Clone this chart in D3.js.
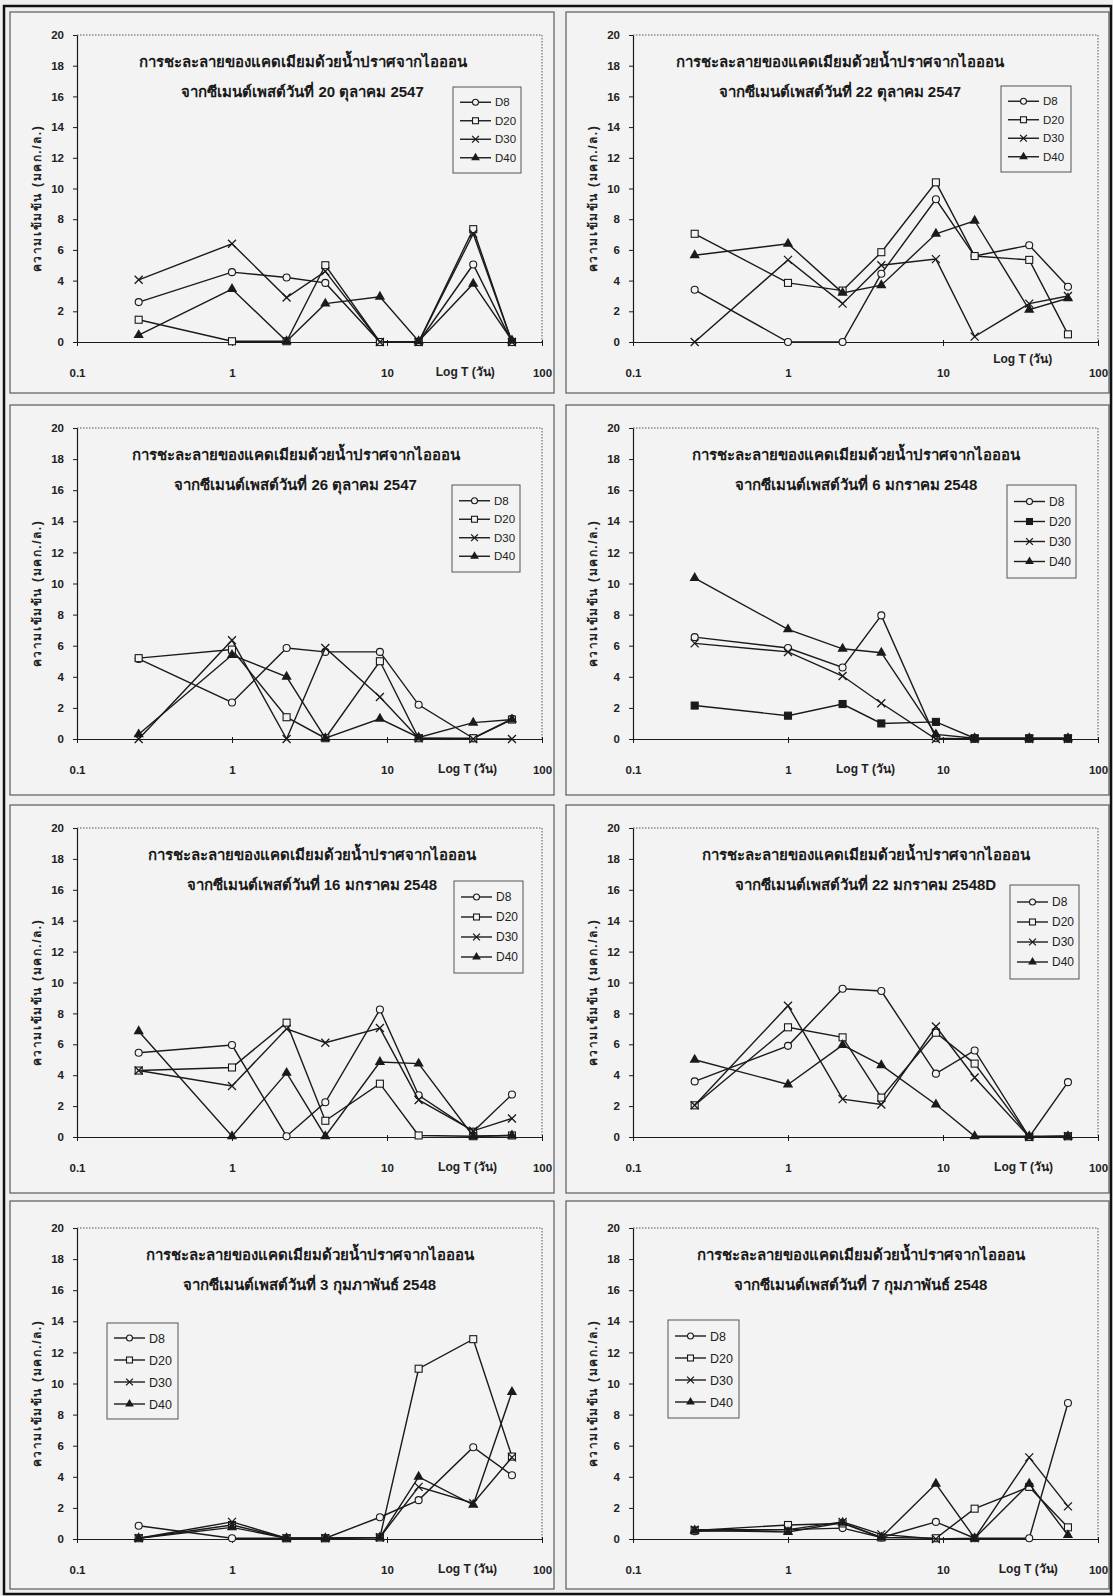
<!DOCTYPE html>
<html>
<head>
<meta charset="utf-8">
<script src="https://cdn.jsdelivr.net/npm/d3@7/dist/d3.min.js"></script>
<style>
  body { margin: 0; background: #efefef; }
  svg { display: block; font-family: "Liberation Sans", Arial, "Noto Sans", sans-serif; }
</style>
</head>
<body>
<div id="chart"></div>
<script>
// Time points (days) and axis ticks
var days = [0.25, 1, 2.25, 4, 9, 16, 36, 64];
var xTicks = [0.1, 1, 10, 100];
var yTicks = [0, 2, 4, 6, 8, 10, 12, 14, 16, 18, 20];
var seriesNames = ['D8', 'D20', 'D30', 'D40'];

// Titles
var titleLine1 = 'การชะละลายของแคดเมียมด้วยน้ำปราศจากไอออน';
var titleDates = [
  'จากซีเมนต์เพสต์วันที่ 20 ตุลาคม 2547',
  'จากซีเมนต์เพสต์วันที่ 22 ตุลาคม 2547',
  'จากซีเมนต์เพสต์วันที่ 26 ตุลาคม 2547',
  'จากซีเมนต์เพสต์วันที่ 6 มกราคม 2548',
  'จากซีเมนต์เพสต์วันที่ 16 มกราคม 2548',
  'จากซีเมนต์เพสต์วันที่ 22 มกราคม 2548D',
  'จากซีเมนต์เพสต์วันที่ 3 กุมภาพันธ์ 2548',
  'จากซีเมนต์เพสต์วันที่ 7 กุมภาพันธ์ 2548'
];
var yLabel = 'ความเข้มข้น (มคก./ล.)';
var xLabel = 'Log T (วัน)';

// Concentrations, one row per series: D8, D20, D30, D40
var oct20 = [
  [2.6, 4.55, 4.2, 3.85, 0, 0, 5.05, 0],
  [1.45, 0.05, 0.05, 5.0, 0, 0, 7.35, 0],
  [4.05, 6.4, 2.9, 4.6, 0, 0, 7.05, 0],
  [0.45, 3.45, 0.05, 2.5, 2.95, 0.05, 3.8, 0.1]
];
var oct22 = [
  [3.4, 0, 0, 4.45, 9.3, 5.6, 6.3, 3.6],
  [7.05, 3.85, 3.35, 5.85, 10.4, 5.6, 5.35, 0.5],
  [0, 5.35, 2.5, 5.0, 5.4, 0.35, 2.5, 3.0],
  [5.65, 6.4, 3.2, 3.7, 7.05, 7.9, 2.1, 2.85]
];
var oct26 = [
  [5.15, 2.35, 5.85, 5.6, 5.6, 2.2, 0.05, 1.3],
  [5.2, 5.75, 1.4, 0.05, 5.0, 0.05, 0.05, 1.25],
  [0, 6.35, 0, 5.85, 2.7, 0.05, 0, 0],
  [0.3, 5.4, 4.0, 0.05, 1.3, 0.1, 1.05, 1.25]
];
var jan6 = [
  [6.55, 5.85, 4.6, 7.95, 0.05, 0, 0, 0],
  [2.15, 1.5, 2.25, 1.0, 1.1, 0.05, 0.05, 0.05],
  [6.15, 5.6, 4.05, 2.3, 0, 0, 0, 0],
  [10.35, 7.05, 5.8, 5.55, 0.3, 0.05, 0.05, 0.05]
];
var jan16 = [
  [5.45, 5.95, 0.05, 2.25, 8.25, 2.7, 0.35, 2.75],
  [4.3, 4.5, 7.4, 1.05, 3.45, 0.1, 0.05, 0.1],
  [4.3, 3.3, 7.0, 6.1, 7.05, 2.4, 0.4, 1.2],
  [6.85, 0.05, 4.15, 0.05, 4.85, 4.75, 0.05, 0.1]
];
var jan22 = [
  [3.6, 5.9, 9.6, 9.45, 4.1, 5.6, 0, 3.55],
  [2.05, 7.1, 6.45, 2.55, 6.75, 4.75, 0, 0.05],
  [2.05, 8.5, 2.45, 2.1, 7.15, 3.85, 0, 0.05],
  [5.0, 3.4, 5.95, 4.65, 2.1, 0.05, 0.05, 0.05]
];
var feb3 = [
  [0.85, 0.05, 0.05, 0.05, 1.4, 2.5, 5.9, 4.1],
  [0.05, 0.9, 0.05, 0.05, 0.1, 10.95, 12.85, 5.3],
  [0.05, 1.1, 0.05, 0.05, 0.1, 3.35, 2.3, 5.25],
  [0.05, 0.75, 0.05, 0.05, 0.1, 4.0, 2.2, 9.45]
];
var feb7 = [
  [0.5, 0.6, 0.7, 0.1, 1.1, 0.05, 0.05, 8.75],
  [0.55, 0.9, 1.0, 0.1, 0.05, 1.95, 3.35, 0.75],
  [0.6, 0.6, 1.1, 0.3, 0, 0.05, 5.25, 2.1],
  [0.55, 0.45, 1.05, 0.1, 3.55, 0.05, 3.55, 0.25]
];
var panelData = [oct20, oct22, oct26, jan6, jan16, jan22, feb3, feb7];

// Layout of the page: rows, columns and per panel extras
var W = 1113, H = 1596;
var cols = [{ x: 10, w: 544 }, { x: 566, w: 543 }];
var rows = [
  { top: 12, plotTop: 35, plotBottom: 342, bottom: 393 },
  { top: 405, plotTop: 428, plotBottom: 739, bottom: 795 },
  { top: 805, plotTop: 828, plotBottom: 1137, bottom: 1193 },
  { top: 1201, plotTop: 1228, plotBottom: 1539, bottom: 1589 }
];
var plotLeft = 67, plotWidth = 465;
// legend box [x, y, w, h, spacing, fontSize] relative to panel
var legendBoxes = [
  [443, 75, 68, 86, 18.5, 11.5], [435, 74, 70, 86, 18.5, 11.5],
  [442, 80, 68, 87, 18.5, 11.5], [441, 80, 69, 93, 20, 12],
  [444, 76, 69, 92, 20, 12], [444, 80, 69, 94, 20, 12],
  [97, 122, 71, 96, 22, 12.5], [102, 119, 71, 98, 22, 12.5]
];
// x label position as fraction of plot width, and y shift
var xLabelPos = [[0.835, 0], [0.838, -13], [0.84, 0], [0.5, 0], [0.84, 0], [0.84, 0], [0.84, 0], [0.85, 0]];
var titleX = [0.485, 0.445, 0.47, 0.48, 0.505, 0.5, 0.5, 0.49];

var bg = '#f3f3f3', ink = '#1a1a1a';

var svg = d3.select('#chart').append('svg')
  .attr('width', W)
  .attr('height', H);

svg.append('rect')
  .attr('width', W).attr('height', H)
  .attr('fill', '#efefef');

panelData.forEach(function(data, p) {
  var col = cols[p % 2], row = rows[Math.floor(p / 2)];
  var g = svg.append('g').attr('transform', 'translate(' + col.x + ',' + row.top + ')');
  var pt = row.plotTop - row.top, pb = row.plotBottom - row.top;

  g.append('rect')
    .attr('x', 0).attr('y', 0)
    .attr('width', col.w).attr('height', row.bottom - row.top)
    .attr('fill', bg)
    .attr('stroke', '#666')
    .attr('stroke-width', 1.3);

  var x = d3.scaleLog().domain([0.1, 100]).range([plotLeft, plotLeft + plotWidth]);
  var y = d3.scaleLinear().domain([0, 20]).range([pb, pt]);

  // plot area dotted border (top and right)
  g.append('path')
    .attr('d', 'M' + x(0.1) + ',' + y(20) + 'H' + x(100) + 'V' + y(0))
    .attr('fill', 'none')
    .attr('stroke', '#555')
    .attr('stroke-width', 1)
    .attr('stroke-dasharray', '1.5,1.5');

  // y axis
  var yAxis = g.append('g')
    .attr('transform', 'translate(' + x(0.1) + ',0)')
    .call(d3.axisLeft(y).tickValues(yTicks).tickSize(4).tickSizeOuter(0).tickPadding(9));
  yAxis.select('.domain').attr('stroke', ink).attr('stroke-width', 1.2);
  yAxis.selectAll('line').attr('stroke', ink);
  yAxis.selectAll('text')
    .attr('font-size', 11.5)
    .attr('font-weight', 'bold')
    .attr('fill', '#222');

  // x axis at y = 0, labels set low
  var xAxis = g.append('g')
    .attr('transform', 'translate(0,' + y(0) + ')')
    .call(d3.axisBottom(x).tickValues(xTicks).tickFormat(d3.format('')).tickSize(4).tickSizeOuter(0));
  xAxis.select('.domain').attr('stroke', ink).attr('stroke-width', 1.2);
  xAxis.selectAll('line').attr('stroke', ink).attr('y1', -2);
  xAxis.selectAll('text')
    .attr('y', 27)
    .attr('font-size', 11.5)
    .attr('font-weight', 'bold')
    .attr('fill', '#222');

  g.append('text')
    .attr('x', plotLeft + xLabelPos[p][0] * plotWidth)
    .attr('y', y(0) + 34 + xLabelPos[p][1])
    .attr('text-anchor', 'middle')
    .attr('font-size', 12)
    .attr('font-weight', 'bold')
    .attr('fill', '#222')
    .text(xLabel);

  // y title
  g.append('text')
    .attr('transform', 'translate(31,' + ((pt + pb) / 2 + 10) + ') rotate(-90)')
    .attr('text-anchor', 'middle')
    .attr('font-size', 12)
    .attr('letter-spacing', 1.6)
    .attr('font-weight', 'bold')
    .attr('fill', '#222')
    .text(yLabel);

  // titles
  var tx = plotLeft + titleX[p] * plotWidth;
  g.append('text')
    .attr('x', tx).attr('y', pt + 32)
    .attr('text-anchor', 'middle')
    .attr('font-size', 15)
    .attr('font-weight', 'bold')
    .attr('fill', ink)
    .text(titleLine1);
  g.append('text')
    .attr('x', tx).attr('y', pt + 62)
    .attr('text-anchor', 'middle')
    .attr('font-size', 15)
    .attr('font-weight', 'bold')
    .attr('fill', ink)
    .text(titleDates[p]);

  // series
  var line = d3.line().x(function(d, i) { return x(days[i]); }).y(function(d) { return y(d); });
  data.forEach(function(vals, s) {
    g.append('path')
      .datum(vals)
      .attr('d', line)
      .attr('fill', 'none')
      .attr('stroke', ink)
      .attr('stroke-width', 1.4);
    var pts = g.append('g').selectAll('g')
      .data(vals)
      .join('g')
        .attr('transform', function(d, i) { return 'translate(' + x(days[i]) + ',' + y(d) + ')'; });
    drawMarker(pts, s, p === 3 && s === 1, 1);
  });

  // legend
  var lb = legendBoxes[p];
  var lg = g.append('g').attr('transform', 'translate(' + lb[0] + ',' + lb[1] + ')');
  lg.append('rect')
    .attr('width', lb[2]).attr('height', lb[3])
    .attr('fill', bg)
    .attr('stroke', '#555')
    .attr('stroke-width', 1);
  var top0 = (lb[3] - 3 * lb[4]) / 2;
  var items = lg.selectAll('g.item')
    .data(seriesNames)
    .join('g')
      .attr('class', 'item')
      .attr('transform', function(d, i) { return 'translate(0,' + (top0 + i * lb[4]) + ')'; });
  items.append('line')
    .attr('x1', 7).attr('x2', 38)
    .attr('stroke', ink)
    .attr('stroke-width', 1.4);
  items.each(function(d, i) {
    var m = d3.select(this).append('g').attr('transform', 'translate(22.5,0)');
    drawMarker(m, i, p === 3 && i === 1, 0.85);
  });
  items.append('text')
    .attr('x', 42).attr('dy', '0.36em')
    .attr('font-size', lb[5])
    .attr('fill', '#222')
    .text(function(d) { return d; });
});

function drawMarker(sel, s, filled, k) {
  if (s === 0) {
    sel.append('circle').attr('r', 3.5 * k)
      .attr('fill', bg).attr('stroke', ink).attr('stroke-width', 1.1);
  } else if (s === 1) {
    sel.append('rect').attr('x', -3.5 * k).attr('y', -3.5 * k).attr('width', 7 * k).attr('height', 7 * k)
      .attr('fill', filled ? ink : bg).attr('stroke', ink).attr('stroke-width', 1.1);
  } else if (s === 2) {
    var a = 4 * k;
    sel.append('path').attr('d', 'M' + -a + ',' + -a + 'L' + a + ',' + a + 'M' + -a + ',' + a + 'L' + a + ',' + -a)
      .attr('stroke', ink).attr('stroke-width', 1.3);
  } else {
    sel.append('path').attr('d', d3.symbol(d3.symbolTriangle, 46 * k * k))
      .attr('fill', ink);
  }
}

// outer frame
svg.append('rect')
  .attr('x', 4).attr('y', 6)
  .attr('width', W - 6).attr('height', H - 8)
  .attr('fill', 'none')
  .attr('stroke', '#111')
  .attr('stroke-width', 2.5);
</script>
</body>
</html>
